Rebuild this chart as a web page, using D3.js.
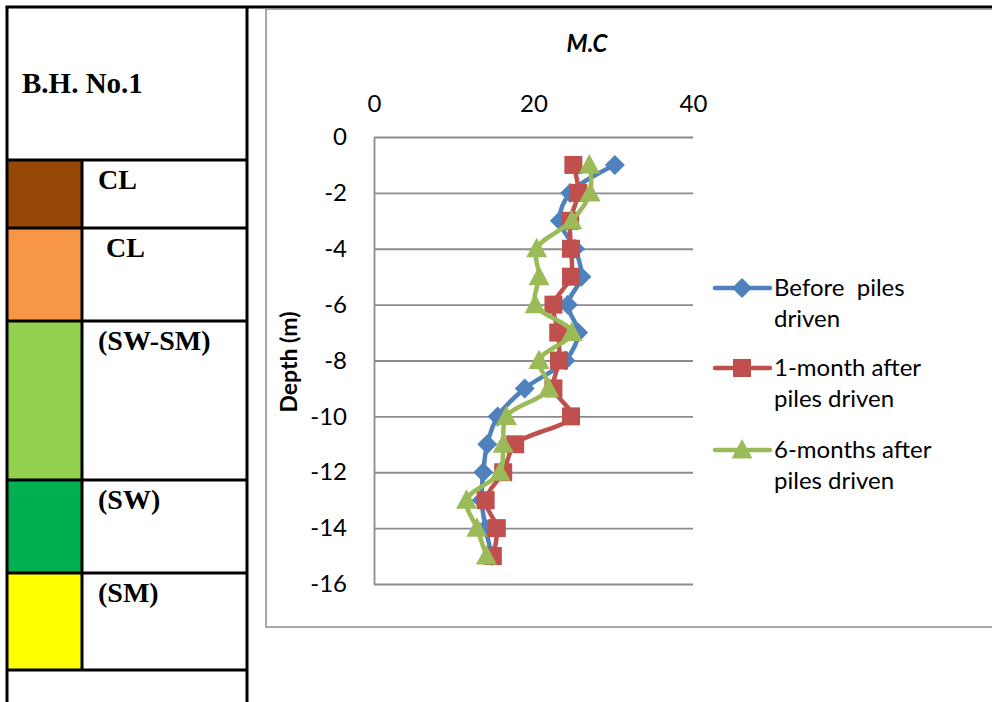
<!DOCTYPE html>
<html>
<head>
<meta charset="utf-8">
<script src="https://cdn.jsdelivr.net/npm/d3@7/dist/d3.min.js"></script>
<style>
  html, body { margin: 0; padding: 0; background: #fff; }
  svg { display: block; }
</style>
</head>
<body>
<svg id="fig" width="992" height="702"></svg>
<script>
// Borehole log B.H. No.1: soil strata and moisture content with depth
const depths = [-1, -2, -3, -4, -5, -6, -7, -8, -9, -10, -11, -12, -13, -14, -15];
const beforePiles = [30.2, 24.6, 23.3, 25.2, 26.0, 24.3, 25.6, 24.0, 18.9, 15.5, 14.2, 13.7, 13.5, 14.0, 14.8];
const oneMonthAfter = [25.0, 25.6, 24.6, 24.7, 24.7, 22.5, 23.1, 23.2, 22.5, 24.7, 17.7, 16.2, 14.0, 15.4, 14.9];
const sixMonthsAfter = [27.0, 27.1, 24.8, 20.4, 20.7, 20.2, 24.8, 20.7, 21.9, 16.6, 16.2, 15.8, 11.6, 12.9, 14.1];

const seriesNames = [["Before  piles", "driven"], ["1-month after", "piles driven"], ["6-months after", "piles driven"]];
const seriesColors = ["#4F81BD", "#C0504D", "#9BBB59"];
const seriesMarkers = ["diamond", "square", "triangle"];

const xTicks = [0, 20, 40];
const yTicks = [0, -2, -4, -6, -8, -10, -12, -14, -16];

// Soil strata rows of the log table
const strataLabels = ["CL", "CL", "(SW-SM)", "(SW)", "(SM)"];
const strataColors = ["#984806", "#F79646", "#92D050", "#00B050", "#FFFF00"];
const strataBounds = [160, 228, 321, 480, 573, 670];
const strataLabelX = [98, 106, 98, 98, 98];

const svg = d3.select("#fig");

// ---- Log table on the left ----
const tbl = svg.append("g");
const tl = 7, tr = 247, tc = 82, tt = 7;
strataColors.forEach((c, i) => {
  tbl.append("rect").attr("x", tl).attr("y", strataBounds[i])
    .attr("width", tc - tl).attr("height", strataBounds[i + 1] - strataBounds[i]).attr("fill", c);
});
function hline(x1, x2, yy) {
  tbl.append("line").attr("x1", x1).attr("x2", x2).attr("y1", yy).attr("y2", yy)
    .attr("stroke", "#000").attr("stroke-width", 3);
}
function vline(xx, y1, y2) {
  tbl.append("line").attr("x1", xx).attr("x2", xx).attr("y1", y1).attr("y2", y2)
    .attr("stroke", "#000").attr("stroke-width", 3);
}
hline(tl - 1.5, 992, tt);
strataBounds.forEach(yy => hline(tl, tr, yy));
vline(tl, tt, 702);
vline(tr, tt, 702);
vline(tc, strataBounds[0], strataBounds[strataBounds.length - 1]);

const serif = "'Liberation Serif', 'Times New Roman', serif";
tbl.append("text").attr("x", 22).attr("y", 93)
  .attr("font-family", serif).attr("font-weight", "bold").attr("font-size", 29).text("B.H. No.1");
strataLabels.forEach((t, i) => {
  tbl.append("text").attr("x", strataLabelX[i]).attr("y", strataBounds[i] + 29)
    .attr("font-family", serif).attr("font-weight", "bold").attr("font-size", 28).text(t);
});

// ---- Chart frame ----
svg.append("rect").attr("x", 266).attr("y", 9).attr("width", 740).attr("height", 618)
  .attr("fill", "none").attr("stroke", "#8c8c8c").attr("stroke-width", 1.5);

// ---- Moisture content chart ----
const x = d3.scaleLinear().domain([0, 40]).range([374, 693]);
const y = d3.scaleLinear().domain([-16, 0]).range([584, 137]);
const font = "Lato, 'Open Sans', sans-serif";
const plain = d => String(d); // hyphen-minus for negative depths

const gy = svg.append("g").attr("transform", `translate(${x(0)},0)`)
  .call(d3.axisLeft(y).tickValues(yTicks).tickFormat(plain)
    .tickSize(-(x(40) - x(0))).tickSizeOuter(0).tickPadding(27));
gy.selectAll(".tick line").attr("stroke", "#8c8c8c").attr("stroke-width", 1.8);
gy.select(".domain").attr("stroke", "#8c8c8c").attr("stroke-width", 1.8);
gy.selectAll("text").attr("font-family", font).attr("font-size", 24).attr("fill", "#000");

const gx = svg.append("g").attr("transform", `translate(0,${y(0)})`)
  .call(d3.axisTop(x).tickValues(xTicks).tickFormat(plain).tickSize(0).tickPadding(25));
gx.select(".domain").remove();
gx.selectAll("text").attr("font-family", font).attr("font-size", 24).attr("fill", "#000");

svg.append("text").attr("x", 587).attr("y", 52).attr("text-anchor", "middle")
  .attr("font-family", font).attr("font-size", 24).attr("font-weight", "bold")
  .attr("font-style", "italic").text("M.C");

svg.append("text").attr("transform", "translate(297,362) rotate(-90)")
  .attr("text-anchor", "middle").attr("font-family", font)
  .attr("font-size", 23).attr("font-weight", "bold").text("Depth (m)");

// ---- Series ----
function markerPath(kind) {
  if (kind === "diamond") return "M0,-10L10,0L0,10L-10,0Z";
  if (kind === "square") return "M-9,-9H9V9H-9Z";
  return "M0,-11L10.5,8.5H-10.5Z";
}
const seriesValues = [beforePiles, oneMonthAfter, sixMonthsAfter];
const line = d3.line().x(d => x(d[0])).y(d => y(d[1])).curve(d3.curveCatmullRom.alpha(0.5));

seriesValues.forEach((vals, i) => {
  const pts = vals.map((v, j) => [v, depths[j]]);
  const g = svg.append("g");
  g.append("path").attr("d", line(pts)).attr("fill", "none")
    .attr("stroke", seriesColors[i]).attr("stroke-width", 4.5).attr("stroke-linejoin", "round");
  g.selectAll("path.m").data(pts).join("path").attr("class", "m")
    .attr("transform", d => `translate(${x(d[0])},${y(d[1])})`)
    .attr("d", markerPath(seriesMarkers[i])).attr("fill", seriesColors[i]);
});

// ---- Legend ----
const legendY = [288, 368, 450];
const lg = svg.append("g");
seriesNames.forEach((lines, i) => {
  lg.append("line").attr("x1", 715).attr("x2", 770).attr("y1", legendY[i]).attr("y2", legendY[i])
    .attr("stroke", seriesColors[i]).attr("stroke-width", 4.5).attr("stroke-linecap", "round");
  lg.append("path").attr("transform", `translate(742,${legendY[i]})`)
    .attr("d", markerPath(seriesMarkers[i])).attr("fill", seriesColors[i]);
  lines.forEach((t, k) => {
    lg.append("text").attr("x", 774).attr("y", legendY[i] + 8 + k * 31)
      .attr("font-family", font).attr("font-size", 24).style("white-space", "pre").text(t);
  });
});
</script>
</body>
</html>
